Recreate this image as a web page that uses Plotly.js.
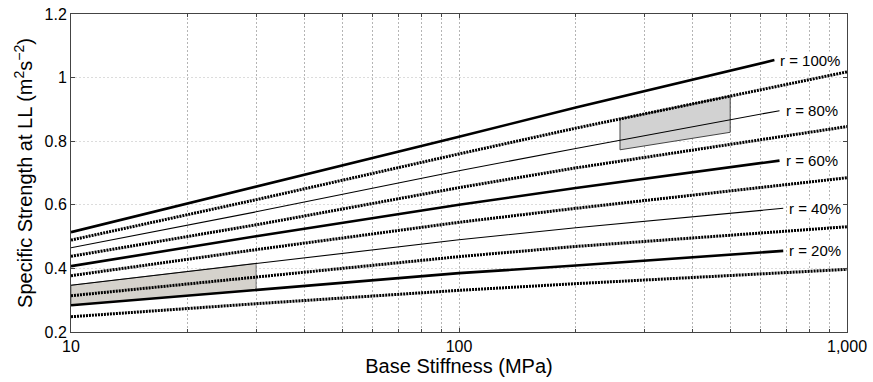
<!DOCTYPE html>
<html>
<head>
<meta charset="utf-8">
<script src="https://cdn.plot.ly/plotly-3.0.1.min.js"></script>
<style>html,body{margin:0;padding:0;background:#fff;}#chart{width:873px;height:382px;}</style>
</head>
<body>
<div id="chart"></div>
<script>
// ---- data ----
const xStart = [10, 30, 100, 200];
const solidEnd100 = 650, solidEnd80 = 670, solidEnd60 = 670, solidEnd40 = 685, solidEnd20 = 685;
const dottedEnd = 1000;

const s100 = [0.514, 0.656, 0.814, 0.906, 1.055];
const s80  = [0.465, 0.578, 0.707, 0.777, 0.896];
const s60  = [0.407, 0.501, 0.600, 0.653, 0.739];
const s40  = [0.347, 0.416, 0.490, 0.528, 0.589];
const s20  = [0.284, 0.333, 0.385, 0.409, 0.455];

const d100 = [0.489, 0.616, 0.760, 0.841, 1.018];
const d80  = [0.438, 0.537, 0.654, 0.716, 0.846];
const d60  = [0.377, 0.459, 0.545, 0.589, 0.685];
const d40  = [0.314, 0.373, 0.437, 0.469, 0.531];
const d20  = [0.248, 0.289, 0.331, 0.352, 0.397];

const labels = ['r = 100%', 'r = 80%', 'r = 60%', 'r = 40%', 'r = 20%'];

const regionAx = [10, 30, 30, 10, 10];
const regionAy = [0.347, 0.416, 0.333, 0.284, 0.347];
const regionBx = [260, 500, 500, 260, 260];
const regionBy = [0.870, 0.942, 0.828, 0.773, 0.870];

const xMajorVals = [10, 100, 1000];
const xMajorText = ['10', '100', '1,000'];
const xMinorVals = [20,30,40,50,60,70,80,90,200,300,400,500,600,700,800,900];
const yTickVals = [0.2, 0.4, 0.6, 0.8, 1.0, 1.2];

// ---- build traces ----
const traces = [];
traces.push({x: regionAx, y: regionAy, mode: 'lines', fill: 'toself', fillcolor: '#d5d2cc',
  line: {color: '#777', width: 1}, hoverinfo: 'skip', showlegend: false});
traces.push({x: regionBx, y: regionBy, mode: 'lines', fill: 'toself', fillcolor: '#d2d2d2',
  line: {color: '#444', width: 1}, hoverinfo: 'skip', showlegend: false});

const dotted = [d100, d80, d60, d40, d20];
dotted.forEach(d => traces.push({
  x: xStart.concat([dottedEnd]), y: d, mode: 'lines',
  line: {color: '#000', width: 3, dash: '2px,1px'}, showlegend: false
}));

const solids = [
  {y: s100, end: solidEnd100, w: 2.6},
  {y: s80,  end: solidEnd80,  w: 1.1},
  {y: s60,  end: solidEnd60,  w: 2.6},
  {y: s40,  end: solidEnd40,  w: 1.1},
  {y: s20,  end: solidEnd20,  w: 2.6}
];
solids.forEach(s => traces.push({
  x: xStart.concat([s.end]), y: s.y, mode: 'lines',
  line: {color: '#000', width: s.w}, showlegend: false
}));

const annotations = solids.map((s, i) => ({
  x: Math.log10(s.end), y: s.y[s.y.length - 1], xref: 'x', yref: 'y',
  text: labels[i], showarrow: false, xanchor: 'left', yanchor: 'middle', xshift: 5,
  bgcolor: '#fff', borderpad: 0,
  font: {family: 'Liberation Sans, Arial, sans-serif', size: 15, color: '#000'}
}));

const font = {family: 'Liberation Sans, Arial, sans-serif', color: '#000'};

const layout = {
  width: 873, height: 382,
  margin: {l: 71, r: 26, t: 14, b: 50, pad: 0},
  paper_bgcolor: '#fff', plot_bgcolor: '#fff',
  font: font,
  showlegend: false,
  xaxis: {
    type: 'log', range: [1, 3],
    tickvals: xMajorVals, ticktext: xMajorText,
    ticks: 'inside', ticklen: 4, tickcolor: '#444',
    showgrid: true, gridcolor: '#b5b5b5', griddash: '2px,2px', gridwidth: 1,
    minor: {tickvals: xMinorVals, ticks: 'inside', ticklen: 3, tickcolor: '#444',
            showgrid: true, gridcolor: '#b5b5b5', griddash: '2px,2px', gridwidth: 1},
    showline: true, linecolor: '#444', linewidth: 1, mirror: 'ticks',
    zeroline: false,
    tickfont: {family: font.family, size: 16, color: '#000'},
    title: {text: 'Base Stiffness (MPa)', font: {family: font.family, size: 20, color: '#000'}, standoff: 3}
  },
  yaxis: {
    range: [0.2, 1.2],
    tickvals: yTickVals,
    ticks: 'inside', ticklen: 4, tickcolor: '#444',
    showgrid: true, gridcolor: '#dcdcdc', griddash: '2px,2px', gridwidth: 1,
    showline: true, linecolor: '#444', linewidth: 1, mirror: 'ticks',
    zeroline: false,
    tickfont: {family: font.family, size: 16, color: '#000'},
    title: {text: 'Specific Strength at LL (m<sup>2</sup>s<sup>\u22122</sup>)', font: {family: font.family, size: 20, color: '#000'}, standoff: 6}
  },
  annotations: annotations
};

Plotly.newPlot('chart', traces, layout, {displayModeBar: false, staticPlot: true});
</script>
</body>
</html>
